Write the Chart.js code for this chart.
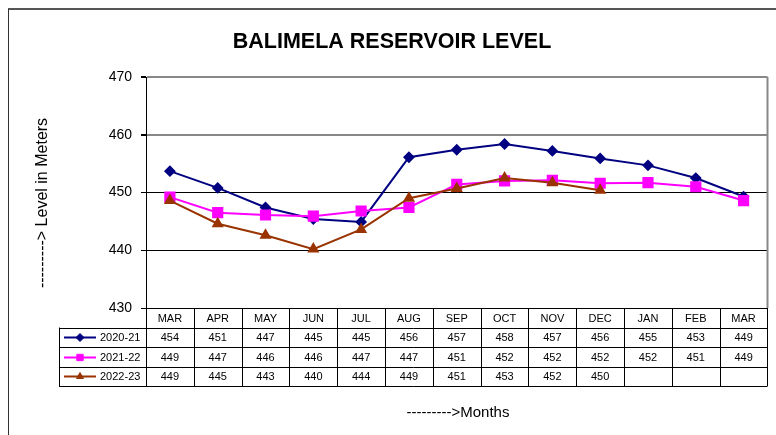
<!DOCTYPE html>
<html>
<head>
<meta charset="utf-8">
<script src="https://cdn.jsdelivr.net/npm/chart.js@4"></script>
<style>
  body { margin: 0; background: #fff; }
  canvas { display: block; }
</style>
</head>
<body>
<canvas id="levelChart" width="776" height="435"></canvas>
<script>
// Balimela reservoir level (m)
const months = ['MAR', 'APR', 'MAY', 'JUN', 'JUL', 'AUG', 'SEP', 'OCT', 'NOV', 'DEC', 'JAN', 'FEB', 'MAR'];
const level2020 = [453.7, 450.8, 447.4, 445.4, 444.9, 456.1, 457.4, 458.4, 457.2, 455.9, 454.7, 452.5, 449.3];
const level2021 = [449.2, 446.5, 446.1, 445.9, 446.8, 447.4, 451.4, 452.0, 452.1, 451.6, 451.7, 451.0, 448.6];
const level2022 = [448.6, 444.6, 442.6, 440.2, 443.6, 449.0, 450.7, 452.5, 451.7, 450.4, null, null, null];
const seriesNames = ['2020-21', '2021-22', '2022-23'];
const yTicks = [430, 440, 450, 460, 470];

const FONT = '"Liberation Sans", Arial, sans-serif';

// Draws the data table under the plot, the frame and the axis captions
const tablePlugin = {
    id: 'dataTable',
    afterDraw(chart) {
        const ctx = chart.ctx;
        const area = chart.chartArea;
        const x = chart.scales.x;
        const colW = x.getPixelForValue(1) - x.getPixelForValue(0);
        const rowH = 19.5;
        const top = area.bottom;
        const legendLeft = 59;

        ctx.save();

        // outer frame
        ctx.strokeStyle = '#555';
        ctx.lineWidth = 2;
        ctx.beginPath();
        ctx.moveTo(8, 9);
        ctx.lineTo(776, 9);
        ctx.stroke();
        ctx.lineWidth = 1;
        ctx.strokeStyle = '#333';
        ctx.beginPath();
        ctx.moveTo(8.5, 9);
        ctx.lineTo(8.5, 435);
        ctx.stroke();

        // right border of plot
        ctx.strokeStyle = '#888';
        ctx.lineWidth = 2;
        ctx.beginPath();
        ctx.moveTo(area.right, area.top);
        ctx.lineTo(area.right, area.bottom);
        ctx.stroke();

        // table grid
        ctx.strokeStyle = '#000';
        ctx.lineWidth = 1;
        ctx.beginPath();
        for (let r = 0; r <= 4; r++) {
            const yy = Math.round(top + r * rowH) + 0.5;
            ctx.moveTo(r === 0 ? area.left : legendLeft, yy);
            ctx.lineTo(area.right, yy);
        }
        for (let i = 0; i <= months.length; i++) {
            const xx = Math.round(x.getPixelForValue(0) - colW / 2 + i * colW) + 0.5;
            ctx.moveTo(xx, top);
            ctx.lineTo(xx, top + 4 * rowH);
        }
        ctx.moveTo(legendLeft + 0.5, top + rowH);
        ctx.lineTo(legendLeft + 0.5, top + 4 * rowH);
        ctx.stroke();

        // month header + values
        ctx.fillStyle = '#000';
        ctx.font = '11px ' + FONT;
        ctx.textAlign = 'center';
        ctx.textBaseline = 'middle';
        months.forEach((m, i) => {
            ctx.fillText(m, x.getPixelForValue(i), top + rowH / 2 + 1);
        });
        chart.data.datasets.forEach((ds, r) => {
            const cy = top + (r + 1.5) * rowH + 1;
            ds.data.forEach((v, i) => {
                if (v !== null) ctx.fillText(String(Math.round(v)), x.getPixelForValue(i), cy);
            });

            // legend key
            const ly = Math.round(cy - 1) + 0.5;
            ctx.strokeStyle = ds.borderColor;
            ctx.lineWidth = 2;
            ctx.beginPath();
            ctx.moveTo(64, ly);
            ctx.lineTo(96, ly);
            ctx.stroke();
            ctx.fillStyle = ds.backgroundColor;
            ctx.strokeStyle = ds.borderColor;
            ctx.lineWidth = 1;
            Chart.helpers.drawPoint(ctx, {
                pointStyle: ds.pointStyle,
                radius: ds.legendRadius,
                rotation: 0,
                borderWidth: 1
            }, 80, ly);
            ctx.fillStyle = '#000';
            ctx.textAlign = 'left';
            ctx.fillText(ds.label, 100, cy);
            ctx.textAlign = 'center';
        });

        // axis captions
        ctx.font = '15px ' + FONT;
        ctx.fillText('--------->Months', 458, 413);
        ctx.font = '16px ' + FONT;
        ctx.translate(43, 203);
        ctx.rotate(-Math.PI / 2);
        ctx.fillText('---------> Level in Meters', 0, 0);

        ctx.restore();
    }
};

const ctx = document.getElementById('levelChart').getContext('2d');
const levelChart = new Chart(ctx, {
    type: 'line',
    data: {
        labels: months,
        datasets: [{
            label: seriesNames[0],
            data: level2020,
            borderColor: '#000080',
            backgroundColor: '#000080',
            borderWidth: 2,
            pointStyle: 'rectRot',
            pointRadius: 4.5,
            legendRadius: 4,
            order: 2
        }, {
            label: seriesNames[1],
            data: level2021,
            borderColor: '#FF00FF',
            backgroundColor: '#FF00FF',
            borderWidth: 2,
            pointStyle: 'rect',
            pointRadius: 6.5,
            legendRadius: 4.5,
            order: 1
        }, {
            label: seriesNames[2],
            data: level2022,
            borderColor: '#993300',
            backgroundColor: '#993300',
            borderWidth: 2,
            pointStyle: 'triangle',
            pointRadius: 5,
            legendRadius: 4,
            order: 0
        }]
    },
    options: {
        responsive: false,
        animation: false,
        devicePixelRatio: 1,
        spanGaps: false,
        layout: {
            padding: { left: 14, right: 6, top: 0, bottom: 127 }
        },
        plugins: {
            legend: { display: false },
            tooltip: { enabled: false },
            title: {
                display: true,
                text: 'BALIMELA RESERVOIR LEVEL',
                color: '#000',
                font: { family: FONT, size: 21.5, weight: 'bold', lineHeight: 1 },
                padding: { top: 31, bottom: 24.5 }
            }
        },
        scales: {
            x: {
                type: 'category',
                offset: true,
                display: false
            },
            y: {
                min: yTicks[0],
                max: yTicks[yTicks.length - 1],
                afterFit(scale) { scale.width = 132; },
                afterBuildTicks(scale) { scale.ticks = yTicks.map(v => ({ value: v })); },
                ticks: {
                    color: '#000',
                    padding: 9,
                    font: { family: FONT, size: 14 }
                },
                grid: {
                    tickLength: 5,
                    tickColor: '#000',
                    color: c => (c.tick && c.tick.value >= 460) ? '#888' : '#000',
                    lineWidth: c => (c.tick && c.tick.value >= 460) ? 2 : 1
                },
                border: { display: true, color: '#000', width: 1 }
            }
        }
    },
    plugins: [tablePlugin]
});
</script>
</body>
</html>
